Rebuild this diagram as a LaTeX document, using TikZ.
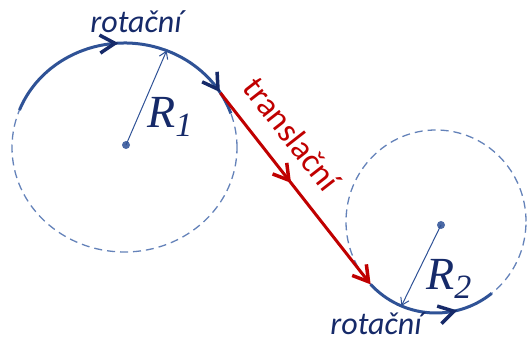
\documentclass[tikz,border=0pt]{standalone}
\usepackage{fontspec}
\setmainfont{Carlito}
\newfontfamily\rfont{Liberation Serif}
\usetikzlibrary{arrows.meta,decorations.markings,calc}
\definecolor{navy}{RGB}{22,42,105}
\definecolor{arcblue}{RGB}{47,82,150}
\definecolor{dashblue}{RGB}{100,130,185}
\definecolor{dotblue}{RGB}{75,105,165}
\definecolor{myred}{RGB}{192,0,0}
\tikzset{
  navytip/.tip={Straight Barb[length=15pt,width=18pt,line width=3.5pt,color=navy]},
  redtip/.tip={Straight Barb[length=15pt,width=18pt,line width=3.5pt,color=myred]},
  radtip/.tip={Straight Barb[length=7pt,width=9pt]},
  dashcirc/.style={draw=dashblue,line width=1.3pt,dash pattern=on 8pt off 5pt},
  solidarc/.style={draw=arcblue,line width=3pt},
  redline/.style={draw=myred,line width=3pt},
  radline/.style={draw=arcblue,line width=1pt,-radtip},
  cdot/.style={circle,fill=dotblue,inner sep=0pt,minimum size=8pt},
  rottext/.style={text=navy,font=\fontsize{32}{32}\selectfont\itshape,inner sep=0pt},
  transtext/.style={text=myred,font=\fontsize{34}{34}\selectfont,inner sep=0pt},
  rlabel/.style={text=navy,inner sep=0pt,anchor=base west}
}
\begin{document}
\begin{tikzpicture}[x=1pt,y=1pt]
\useasboundingbox (0,0) rectangle (527,342);
\coordinate (c1) at (124.5,194.5);
\coordinate (c2) at (436,120.5);
% dashed full circles
\draw[dashcirc] (c1) ellipse [x radius=112.5, y radius=104.5];
\draw[dashcirc] (c2) ellipse [x radius=90, y radius=91.5];
% key points
\coordinate (a1s) at ($(c1)+(159:112.5 and 104.5)$);
\coordinate (p1) at ($(c1)+(31.5:112.5 and 104.5)$);
\coordinate (p2) at ($(c2)+(223.4:90 and 91.5)$);
\coordinate (q1) at ($(c1)+(68:112.5 and 104.5)$);
\coordinate (q2) at ($(c2)+(247.4:90 and 91.5)$);
% centre dots
\node[cdot] (d1) at (126,197) {};
\node[cdot] (d2) at (441,117) {};
% radius arrows
\draw[radline] (d1.center) -- (q1);
\draw[radline] (d2.center) -- (q2);
% solid arcs
\draw[solidarc, postaction={decorate}, decoration={markings,
   mark=at position 0.47 with {\arrow{navytip}},
   mark=at position 0.91 with {\arrow{navytip}}}]
  (a1s) arc[start angle=159, end angle=19, x radius=112.5, y radius=104.5];
\draw[solidarc, postaction={decorate}, decoration={markings,
   mark=at position 0.71 with {\arrow{navytip}}}]
  (p2) arc[start angle=223.4, end angle=308.2, x radius=90, y radius=91.5];
% translation
\draw[redline, -redtip, postaction={decorate}, decoration={markings,
   mark=at position 0.47 with {\arrow{redtip}}}] (p1) -- (p2);
% labels
\node[rottext, anchor=base] (t1) at (136,309) {rotační};
\node[rottext, anchor=base] (t2) at (376,7) {rotační};
\node[transtext, rotate=-52] (t3) at (292,208) {translační};
\node[rlabel] (r1) at (147,214) {\rfont\itshape\fontsize{46}{46}\selectfont R\raisebox{-9pt}{\fontsize{34}{34}\selectfont 1}};
\node[rlabel] (r2) at (426,52) {\rfont\itshape\fontsize{46}{46}\selectfont R\raisebox{-9pt}{\fontsize{34}{34}\selectfont 2}};
\end{tikzpicture}
\end{document}
